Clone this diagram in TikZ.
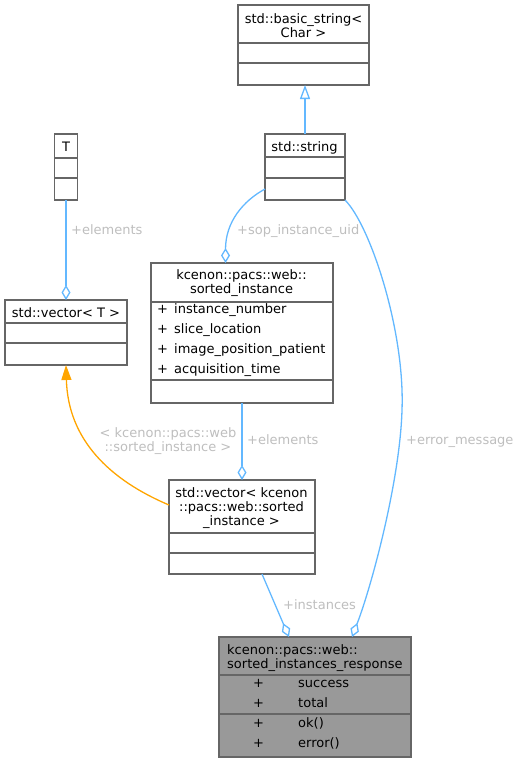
\documentclass[tikz,border=0pt]{standalone}
\usepackage{fontspec}
\setmainfont{DejaVu Sans}
\usetikzlibrary{arrows.meta,calc}
\definecolor{edgeblue}{HTML}{63B8FF}
\definecolor{boxgray}{HTML}{666666}
\definecolor{lblgray}{HTML}{BEBEBE}
\definecolor{respfill}{HTML}{999999}
\definecolor{inhorange}{HTML}{FFA500}
\begin{document}
\begin{tikzpicture}[x=1pt,y=-1pt,font=\fontsize{13}{14}\selectfont,
  classbox/.style={draw=boxgray,line width=1.3pt,anchor=north west,inner sep=0pt,outer sep=0pt},
  divider/.style={draw=boxgray,line width=1.3pt},
  txt/.style={inner sep=0pt,anchor=base},
  txtw/.style={inner sep=0pt,anchor=base west},
  lbl/.style={inner sep=0pt,text=lblgray,anchor=base west},
  lblc/.style={inner sep=0pt,text=lblgray,anchor=base},
  assoc/.style={draw=edgeblue,line width=1.3pt,-{Diamond[open,length=15pt,width=9pt]}},
  inherit/.style={draw=edgeblue,line width=1.3pt,-{Triangle[open,length=14pt,width=10pt]}},
  tmpl/.style={draw=inhorange,line width=1.3pt,-{Triangle[length=15pt,width=10pt]}}]
\useasboundingbox (0,0) rectangle (519,763);

% boxes
\node[classbox,minimum width=131pt,minimum height=80pt] (bs) at (238,5) {};
\draw[divider] ($(bs.north west)+(0,38)$) -- ($(bs.north east)+(0,38)$);
\draw[divider] ($(bs.north west)+(0,58)$) -- ($(bs.north east)+(0,58)$);
\node[txt] (bs1) at (303.5,23.5) {std::basic\_string<};
\node[txt] (bs2) at (303.5,37.5) {Char >};

\node[classbox,minimum width=80pt,minimum height=66pt] (str) at (265,134) {};
\draw[divider] ($(str.north west)+(0,23)$) -- ($(str.north east)+(0,23)$);
\draw[divider] ($(str.north west)+(0,44)$) -- ($(str.north east)+(0,44)$);
\node[txt] (str1) at (304.5,151) {std::string};

\node[classbox,minimum width=23pt,minimum height=66pt] (T) at (54.5,134) {};
\draw[divider] ($(T.north west)+(0,24)$) -- ($(T.north east)+(0,24)$);
\draw[divider] ($(T.north west)+(0,44)$) -- ($(T.north east)+(0,44)$);
\node[txt] (T1) at (66,151) {T};

\node[classbox,minimum width=122pt,minimum height=65pt] (vecT) at (5,300) {};
\draw[divider] ($(vecT.north west)+(0,23)$) -- ($(vecT.north east)+(0,23)$);
\draw[divider] ($(vecT.north west)+(0,43)$) -- ($(vecT.north east)+(0,43)$);
\node[txt] (vecT1) at (66,317) {std::vector< T >};

\node[classbox,minimum width=182pt,minimum height=140pt] (si) at (151,263) {};
\draw[divider] ($(si.north west)+(0,39)$) -- ($(si.north east)+(0,39)$);
\draw[divider] ($(si.north west)+(0,117)$) -- ($(si.north east)+(0,117)$);
\node[txt] (si1) at (241.5,279.5) {kcenon::pacs::web::};
\node[txt] (si2) at (241.5,293.5) {sorted\_instance};
\node[txtw] (sip1) at (157,313.5) {+};
\node[txtw] (sim1) at (174,313.5) {instance\_number};
\node[txtw] (sip2) at (157,333.5) {+};
\node[txtw] (sim2) at (174,333.5) {slice\_location};
\node[txtw] (sip3) at (157,353.5) {+};
\node[txtw] (sim3) at (174,353.5) {image\_position\_patient};
\node[txtw] (sip4) at (157,373.5) {+};
\node[txtw] (sim4) at (174,373.5) {acquisition\_time};

\node[classbox,minimum width=146pt,minimum height=94pt] (veck) at (169,480) {};
\draw[divider] ($(veck.north west)+(0,53)$) -- ($(veck.north east)+(0,53)$);
\draw[divider] ($(veck.north west)+(0,73)$) -- ($(veck.north east)+(0,73)$);
\node[txt] (vk1) at (241.5,497) {std::vector< kcenon};
\node[txt] (vk2) at (241.5,511) {::pacs::web::sorted};
\node[txt] (vk3) at (241.5,525) {\_instance >};

\node[classbox,fill=respfill,minimum width=192pt,minimum height=120pt] (resp) at (219,637) {};
\draw[divider] ($(resp.north west)+(0,38)$) -- ($(resp.north east)+(0,38)$);
\draw[divider] ($(resp.north west)+(0,77)$) -- ($(resp.north east)+(0,77)$);
\node[txtw] (r1) at (227,654) {kcenon::pacs::web::};
\node[txtw] (r2) at (227,668) {sorted\_instances\_response};
\node[txt] (rp1) at (258.5,687.5) {+};
\node[txtw] (rm1) at (298,687.5) {success};
\node[txt] (rp2) at (258.5,707.5) {+};
\node[txtw] (rm2) at (298,707.5) {total};
\node[txt] (rp3) at (258.5,727.5) {+};
\node[txtw] (rm3) at (298,727.5) {ok()};
\node[txt] (rp4) at (258.5,747.5) {+};
\node[txtw] (rm4) at (298,747.5) {error()};

% connectors
\draw[inherit] (str.north) -- (str.north |- bs.south);

\draw[assoc] (T.south) -- (T.south |- vecT.north);
\node[lbl] (le1) at (71,234) {+elements};

\coordinate (sopS) at ($(str.south west)+(0,-11)$);
\coordinate (sopE) at ($(si.north west)+(74.5,0)$);
\draw[assoc] (sopS) .. controls (243,201) and (225.5,222) .. (sopE);
\node[lbl] (lsop) at (237,234) {+sop\_instance\_uid};

\draw[assoc] (si.south) -- (veck.north);
\node[lbl] (le2) at (247,444) {+elements};

\coordinate (tS) at ($(veck.north west)+(0,25)$);
\draw[tmpl] (tS) .. controls (110,480) and (68,440) .. (vecT.south);
\node[lblc] (lt1) at (168,437) {< kcenon::pacs::web};
\node[lblc] (lt2) at (168,451) {::sorted\_instance >};

\coordinate (iS) at ($(veck.south west)+(93,0)$);
\coordinate (iE) at ($(resp.north west)+(70,0)$);
\draw[assoc] (iS) -- (iE);
\node[lbl] (li) at (283,609) {+instances};

\coordinate (eM) at (402,410);
\coordinate (eE) at ($(resp.north west)+(133,0)$);
\draw[assoc] (str.south east) .. controls (370,225) and (405,330) .. (eM) .. controls (400,480) and (372,585) .. (eE);
\node[lbl] (lerr) at (406,444) {+error\_message};
\end{tikzpicture}
\end{document}
